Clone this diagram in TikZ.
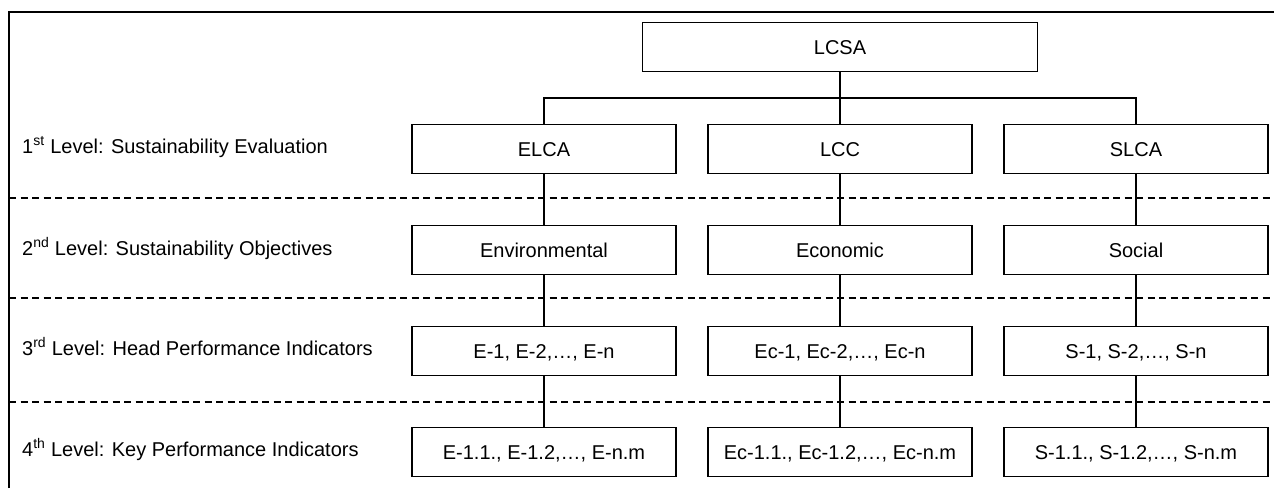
\documentclass[tikz,border=0pt]{standalone}
\usepackage{fontspec}
\setmainfont{Liberation Sans}

\begin{document}
\begin{tikzpicture}[x=1pt, y=-1pt, node distance=101pt,
  font=\fontsize{20}{24}\selectfont,
  box/.style={draw, line width=1.4pt, minimum width=264pt, minimum height=48.5pt, inner sep=0pt, text height=14.3pt, text depth=0pt},
  link/.style={line width=1.2pt},
  level/.style={anchor=base west, inner sep=0pt},
  sep/.style={dash pattern=on 7pt off 4.5pt, line width=1.2pt}]
\useasboundingbox (0,0) rectangle (1274,488);
\draw[line width=1.4pt] (9,488) -- (9,12) -- (1274,12);
\draw[sep] (9,198) -- (1274,198);
\draw[sep] (9,298) -- (1274,298);
\draw[sep] (9,402) -- (1274,402);
\node (lev1)[level] at (22,153) {1\textsuperscript{st} Level: Sustainability Evaluation};
\node (lev2)[level] at (22,255) {2\textsuperscript{nd} Level: Sustainability Objectives};
\node (lev3)[level] at (22,355) {3\textsuperscript{rd} Level: Head Performance Indicators};
\node (lev4)[level] at (22,456) {4\textsuperscript{th} Level: Key Performance Indicators};
\node (elca)[box] at (544,149) {ELCA};
\node (lcc)[box] [right of=elca, node distance=296pt] {LCC};
\node (slca)[box] [right of=lcc, node distance=296pt] {SLCA};
\node (lcsa)[box, minimum width=395pt] [above of=lcc, node distance=102pt] {LCSA};
\node (env)[box] [below of=elca] {Environmental};
\node (eco)[box] [below of=lcc] {Economic};
\node (soc)[box] [below of=slca] {Social};
\node (envhead)[box] [below of=env] {E-1, E-2,…, E-n};
\node (ecohead)[box] [below of=eco] {Ec-1, Ec-2,…, Ec-n};
\node (sochead)[box] [below of=soc] {S-1, S-2,…, S-n};
\node (envkey)[box] [below of=envhead] {E-1.1., E-1.2,…, E-n.m};
\node (ecokey)[box] [below of=ecohead] {Ec-1.1., Ec-1.2,…, Ec-n.m};
\node (sockey)[box] [below of=sochead] {S-1.1., S-1.2,…, S-n.m};
\coordinate (bar) at (838,98);
\draw[link] (lcsa) -- (lcc);
\draw[link] (elca.north) |- (bar) -| (slca.north);
\draw[link] (elca) -- (env);
\draw[link] (lcc) -- (eco);
\draw[link] (slca) -- (soc);
\draw[link] (env) -- (envhead);
\draw[link] (eco) -- (ecohead);
\draw[link] (soc) -- (sochead);
\draw[link] (envhead) -- (envkey);
\draw[link] (ecohead) -- (ecokey);
\draw[link] (sochead) -- (sockey);
\end{tikzpicture}
\end{document}
